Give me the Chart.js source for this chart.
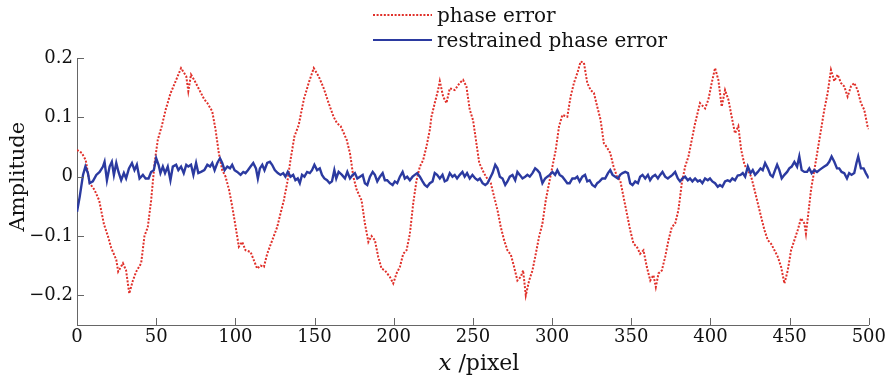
<!DOCTYPE html>
<html>
<head>
<meta charset="utf-8">
<script src="https://cdn.jsdelivr.net/npm/chart.js@4.4.1/dist/chart.umd.min.js"></script>
<style>
html,body{margin:0;padding:0;background:#fff;}
#wrap{width:888px;height:378px;position:relative;}
</style>
</head>
<body>
<div id="wrap"><canvas id="c" width="888" height="378"></canvas></div>
<script>
// ---- data ----
const seriesLabels = ["phase error", "restrained phase error"];
const xTickLabels = [0, 50, 100, 150, 200, 250, 300, 350, 400, 450, 500];
const yTickLabels = [-0.2, -0.1, 0, 0.1, 0.2];
const axisTitleX = ["x", " /pixel"];
const axisTitleY = "Amplitude";

const phaseX = [0,3,5.5,8,11,14,17,19.5,21.6,24.8,26,29,31,33,35.3,37.4,40.5,42.6,44.7,46.8,49,51,53.5,56,59,62.6,65.7,69,70.3,72,74,77.3,80.4,82.3,85.4,87.5,89.6,91.7,93.8,96,98,100.2,102.2,104.3,106.4,109.6,111.7,113.8,115.9,118,120.1,122.2,124.3,126.4,128.5,130.6,132.7,134.8,137.3,140,143.2,146.3,149.5,152.6,155.8,158.9,162,164.2,166.5,168.2,170.3,172.4,174.5,176.6,179.7,181.8,184,186,188.1,190.2,192.3,194.4,197.6,199.7,201.8,203.9,206,208.1,210.2,212.3,214.4,216.5,218.6,220.7,222.8,223.8,225.9,228,229.1,231.2,233.3,235.4,238.5,241.7,243.8,245.9,248,250.1,251.9,254,256.1,258.2,261.3,263.4,265.5,267.6,269.7,271.8,274,276,278.1,280.2,281.7,283.4,285.5,287.6,289.7,291.8,293.9,296,298.1,300.2,302.3,304.4,306.5,309.6,311.7,313.8,316,318,320.1,322.2,324.3,326.4,328.5,330.6,332.7,334.5,336.7,338.8,341,343,345.1,347.2,349.3,351.4,353.5,355.6,357.7,359.8,362,364,365.5,367.2,369.3,371.4,373.5,375.6,377.7,379.8,381.9,384,386.1,388.2,390.3,393.4,396.6,398.7,400.8,402.9,405,407.1,409.2,411.3,413.4,415.5,417.6,419.4,421.5,423.6,425.7,427.8,429.9,432,434.1,436.2,438.3,440.4,442.5,444.6,446.7,448.8,450.9,453,455.1,457.2,459.3,460.3,461.8,463.5,465.6,467.7,469.8,471.9,474,476.1,478.2,480.3,482.4,484.5,486.6,488.7,490.8,492.9,495,497.1,499.2,500];
const phaseY = [0.045,0.04,0.028,-0.011,-0.022,-0.04,-0.08,-0.1,-0.12,-0.14,-0.16,-0.146,-0.158,-0.197,-0.175,-0.16,-0.146,-0.1,-0.085,-0.04,0.023,0.062,0.085,0.113,0.14,0.163,0.183,0.169,0.144,0.172,0.163,0.146,0.13,0.124,0.11,0.079,0.039,0.011,0,-0.022,-0.05,-0.085,-0.118,-0.11,-0.124,-0.127,-0.141,-0.155,-0.15,-0.152,-0.13,-0.115,-0.1,-0.085,-0.062,-0.04,-0.011,0.028,0.068,0.087,0.13,0.158,0.183,0.169,0.149,0.124,0.101,0.09,0.085,0.075,0.062,0.039,0,-0.022,-0.04,-0.079,-0.11,-0.1,-0.107,-0.135,-0.155,-0.158,-0.169,-0.18,-0.163,-0.152,-0.13,-0.124,-0.096,-0.045,-0.006,0.017,0.028,0.051,0.079,0.101,0.124,0.146,0.161,0.135,0.124,0.149,0.146,0.158,0.163,0.152,0.113,0.095,0.062,0.023,0.011,0,-0.011,-0.034,-0.056,-0.085,-0.107,-0.124,-0.132,-0.152,-0.175,-0.169,-0.158,-0.2,-0.175,-0.158,-0.13,-0.101,-0.079,-0.04,-0.011,0.017,0.045,0.085,0.104,0.101,0.135,0.158,0.175,0.194,0.192,0.158,0.146,0.141,0.118,0.096,0.056,0.05,0.04,0.017,0,-0.006,-0.034,-0.062,-0.09,-0.113,-0.118,-0.13,-0.124,-0.152,-0.175,-0.166,-0.186,-0.163,-0.158,-0.135,-0.107,-0.085,-0.079,-0.056,-0.011,0.017,0.034,0.062,0.09,0.124,0.115,0.13,0.158,0.183,0.163,0.118,0.146,0.13,0.101,0.073,0.085,0.045,0.02,0.011,0,-0.022,-0.045,-0.068,-0.09,-0.107,-0.113,-0.124,-0.135,-0.152,-0.18,-0.158,-0.124,-0.107,-0.09,-0.07,-0.079,-0.096,-0.062,-0.022,0.011,0.045,0.079,0.113,0.141,0.18,0.161,0.172,0.158,0.152,0.135,0.152,0.158,0.146,0.124,0.113,0.085,0.08];

const restrainedX = [0,1.7,3.8,5.3,6.9,8,10,12.2,14.3,16.4,17.4,18.9,20.6,22,23.3,24.8,26.2,27.9,29.6,31,32.8,34.7,36.3,37.8,39.5,41.6,43.3,45.2,46.8,48.5,50,51.5,52.7,54.2,55.6,57.3,59,60.5,62.6,64,65.7,67.4,69,70.3,72,73.5,75.2,76.6,78.3,80.4,82.3,84,85.4,86.9,88.6,90.3,91.7,93.2,94.9,96.6,98,99.5,101.2,103.3,105,106.4,107.9,109.6,111.3,113,114.2,115.5,117,118.4,120.1,121.8,123.2,124.9,126.8,128.5,130.2,131.6,133.1,134.8,136.5,137.9,139.4,140.7,142.1,143.6,145.3,147,148.4,149.9,151.6,153.3,154.7,156.2,157.9,159.5,161,162.5,163.7,165.2,167.3,169.2,170.7,172.4,174.1,175.5,177,178.7,180.4,181.8,183.3,185,186.7,188.1,189.6,191.3,193,194.4,195.9,197.6,199.3,200.7,202.2,203.9,205.6,207,208.5,210.2,211.9,213.3,214.8,216.5,218.2,219.6,221.1,222.8,224.5,225.9,227.4,229.1,230.8,232.2,233.7,235.4,237.1,238.5,240,241.7,243.4,244.8,246.3,248,249.7,251.5,253,254.4,256.1,257.8,259.2,260.7,262.4,264.1,265.5,267,268.7,270.4,271.8,273.3,275,276.7,278.1,279.6,281.3,283,284.4,285.9,287.6,289.3,290.7,292.2,293.9,295.6,297,298.5,300.2,301.9,303.3,304.8,306.5,308.2,309.6,311.1,312.8,314.5,315.9,317.4,319.1,320.8,322.2,323.7,325.4,327.1,328.5,330,331.7,333.5,335.3,336.7,338.2,339.9,341.6,343,344.5,346.2,347.9,349.3,350.8,352.5,354.2,355.6,357.1,358.8,360.5,361.9,363.4,365.1,366.8,368.2,369.7,371.4,373.1,374.5,376,377.7,379.4,380.8,382.3,384,385.7,387.1,388.6,390.3,392,393.4,394.9,396.6,398.3,399.7,401.2,402.9,404.6,406,407.5,409.2,410.8,412.3,413.8,415.5,417.2,419,420.4,421.9,423.6,425.3,426.7,428.2,429.9,431.6,433,434.5,436.2,437.9,439.3,440.8,442.1,443.5,445,446.7,448.4,449.8,451.3,453,454.7,456.1,457.6,459.3,461,462.4,463.9,465.6,467.3,468.7,470.2,471.9,473.6,475,476.5,478.2,479.9,481.3,482.8,484.5,486.2,487.6,489.1,490.8,492.2,493.3,495,496.7,498.1,500];
const restrainedY = [-0.059,-0.034,0.003,0.017,0.006,-0.011,-0.008,0.003,0.008,0.017,0.025,-0.006,0.017,0.025,0.003,0.023,0.008,-0.006,0.006,-0.003,0.014,0.023,0.011,0.02,-0.003,0.003,-0.003,-0.003,0.008,0.011,0.031,0.02,0.006,0.017,0.006,0.017,-0.006,0.017,0.02,0.011,0.017,0.006,0.02,0.017,0.02,0.003,0.023,0.006,0.008,0.011,0.02,0.017,0.023,0.011,0.023,0.031,0.023,0.011,0.017,0.014,0.02,0.011,0.008,0.003,0.008,0.006,0.011,0.017,0.023,0.014,-0.003,0.014,0.02,0.011,0.023,0.025,0.02,0.011,0.006,0.003,0.006,0,0.008,0,0.003,-0.006,-0.003,-0.011,0.003,0,0.008,0.006,0.011,0.02,0.011,0.014,0.003,-0.003,-0.006,-0.011,-0.008,0.011,-0.003,0.008,0.003,-0.003,0.008,-0.003,0.003,0.006,-0.003,0,0.003,-0.011,-0.014,0,0.008,0.003,-0.008,0,0.006,-0.006,-0.006,-0.011,-0.014,-0.008,-0.011,0,0.008,-0.003,0,-0.006,0,0.003,0.006,0,-0.008,-0.014,-0.017,-0.011,-0.008,0.006,0.003,-0.003,0.003,-0.008,-0.006,0.006,0,0.003,-0.003,0.003,0.008,0,0.006,-0.003,0.003,-0.003,-0.006,-0.003,-0.011,-0.014,-0.011,-0.003,0.006,0.02,0.014,0,-0.003,-0.014,-0.008,0,0.003,-0.006,0.008,0.003,-0.003,0,0.003,0,0.006,0.014,0.011,0.006,-0.011,-0.003,0,0.003,0.008,0.003,0.011,0.003,0,-0.006,-0.011,-0.011,-0.003,-0.003,0,-0.008,0,0.003,-0.008,-0.006,-0.014,-0.017,-0.011,-0.008,-0.003,-0.003,0.006,0.011,0.003,0,-0.003,0.003,0.006,0.008,0.006,-0.011,-0.014,-0.008,-0.011,0,0.003,-0.003,0.003,-0.006,0,0.003,-0.003,0.003,0.008,0,-0.003,0,0.003,0.008,-0.003,-0.008,-0.003,0,-0.006,-0.003,-0.008,-0.003,-0.008,-0.006,-0.011,-0.003,-0.006,-0.003,-0.008,-0.011,-0.017,-0.014,-0.017,-0.008,-0.006,-0.008,-0.003,-0.006,0.002,0.003,0.006,0,0.017,0.006,0.011,0.003,0.008,0.014,0.011,0.023,0.014,0.003,0,0.011,0.02,0.011,-0.003,0.003,0.008,0.014,0.017,0.025,0.017,0.034,0.011,0.008,0.008,0.014,0.006,0.011,0.008,0.011,0.014,0.017,0.02,0.025,0.034,0.025,0.014,0.014,0.008,0.006,-0.003,0.006,0.003,0.006,0.023,0.034,0.014,0.014,0.006,-0.003];

const toPoints = (xs, ys) => xs.map((x, i) => ({x: x, y: ys[i]}));
const fmtTick = v => (Math.abs(v) < 1e-9 ? "0" : (v < 0 ? "\u2212" + Math.abs(v) : String(v)));

const FONT = "'DejaVu Serif', serif";
const AXIS_COLOR = "#666";

const decorPlugin = {
  id: "decor",
  afterDraw(chart) {
    const ctx = chart.ctx;
    const a = chart.chartArea;
    const xs = chart.scales.x, ys = chart.scales.y;
    ctx.save();
    // inward tick marks
    ctx.strokeStyle = AXIS_COLOR;
    ctx.lineWidth = 1;
    ctx.beginPath();
    yTickLabels.forEach(v => {
      const p = Math.round(ys.getPixelForValue(v)) + 0.5;
      ctx.moveTo(a.left, p); ctx.lineTo(a.left + 7, p);
    });
    xTickLabels.forEach(v => {
      const p = Math.round(xs.getPixelForValue(v)) + 0.5;
      ctx.moveTo(p, a.bottom); ctx.lineTo(p, a.bottom - 7);
    });
    ctx.stroke();

    // x axis title: italic x + regular /pixel
    ctx.fillStyle = "#111";
    ctx.textBaseline = "alphabetic";
    const f1 = "italic 23px " + FONT, f2 = "22px " + FONT;
    ctx.font = f1; const w1 = ctx.measureText(axisTitleX[0]).width;
    ctx.font = f2; const w2 = ctx.measureText(axisTitleX[1]).width;
    const cx = (a.left + a.right) / 2 + 6;
    let sx = cx - (w1 + w2) / 2;
    ctx.font = f1; ctx.fillText(axisTitleX[0], sx, 370);
    ctx.font = f2; ctx.fillText(axisTitleX[1], sx + w1, 370);

    // y axis title
    ctx.save();
    ctx.translate(24, ys.getPixelForValue(0));
    ctx.rotate(-Math.PI / 2);
    ctx.font = "21px " + FONT;
    ctx.textAlign = "center";
    ctx.fillText(axisTitleY, 0, 0);
    ctx.restore();

    // legend
    const ds = chart.data.datasets;
    const legendY = [15, 40];
    ds.forEach((d, i) => {
      const y = legendY[i];
      ctx.beginPath();
      ctx.strokeStyle = d.borderColor;
      ctx.lineWidth = i === 0 ? 2 : 2;
      ctx.setLineDash(d.borderDash || []);
      ctx.moveTo(373, y); ctx.lineTo(432, y);
      ctx.stroke();
      ctx.setLineDash([]);
      ctx.fillStyle = "#111";
      ctx.font = "20px " + FONT;
      ctx.textAlign = "left";
      ctx.textBaseline = "alphabetic";
      ctx.fillText(d.label, 437, y + 7);
    });
    ctx.restore();
  }
};

new Chart(document.getElementById("c"), {
  type: "line",
  data: {
    datasets: [
      {
        label: seriesLabels[0],
        data: toPoints(phaseX, phaseY),
        borderColor: "#e0302a",
        borderWidth: 2,
        borderDash: [2, 1.6],
        pointRadius: 0,
        tension: 0,
        fill: false,
        order: 1
      },
      {
        label: seriesLabels[1],
        data: toPoints(restrainedX, restrainedY),
        borderColor: "#2b3aa0",
        borderWidth: 2.4,
        pointRadius: 0,
        tension: 0,
        fill: false,
        order: 0
      }
    ]
  },
  options: {
    responsive: false,
    animation: false,
    events: [],
    layout: { padding: { left: 0, right: 17, top: 58, bottom: 0 } },
    plugins: { legend: { display: false }, tooltip: { enabled: false } },
    scales: {
      x: {
        type: "linear",
        min: 0, max: 500,
        afterBuildTicks: s => { s.ticks = xTickLabels.map(v => ({value: v})); },
        afterFit: s => { s.height = 53; },
        grid: { display: true, drawOnChartArea: false, drawTicks: false },
        border: { display: true, color: AXIS_COLOR, width: 1 },
        ticks: {
          color: "#111",
          font: { family: FONT, size: 18 },
          padding: 2,
          maxRotation: 0,
          autoSkip: false,
          callback: v => String(v)
        }
      },
      y: {
        type: "linear",
        min: -0.25, max: 0.2,
        afterBuildTicks: s => { s.ticks = yTickLabels.map(v => ({value: v})); },
        afterFit: s => { s.width = 77; },
        grid: { display: true, drawOnChartArea: false, drawTicks: false },
        border: { display: true, color: AXIS_COLOR, width: 1 },
        ticks: {
          color: "#111",
          font: { family: FONT, size: 18 },
          padding: 4,
          autoSkip: false,
          callback: v => fmtTick(v)
        }
      }
    }
  },
  plugins: [decorPlugin]
});
</script>
</body>
</html>
